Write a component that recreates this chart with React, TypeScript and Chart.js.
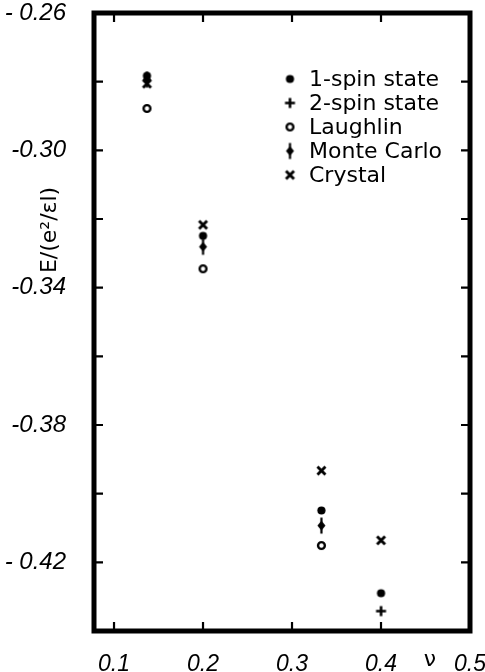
import React, { useEffect, useRef } from "react";
import { Chart, registerables } from "chart.js";

Chart.register(...registerables);

// ---- data ----
const seriesNames = ["1-spin state", "2-spin state", "Laughlin", "Monte Carlo", "Crystal"];

const nuOneSpin = [0.137, 0.2, 0.333, 0.4];
const eOneSpin = [-0.2783, -0.3249, -0.4049, -0.429];

const nuTwoSpin = [0.4];
const eTwoSpin = [-0.4342];

const nuLaughlin = [0.137, 0.2, 0.333];
const eLaughlin = [-0.2878, -0.3345, -0.4151];

const nuMonteCarlo = [0.137, 0.2, 0.333];
const eMonteCarlo = [-0.2794, -0.3281, -0.4093];

const nuCrystal = [0.137, 0.2, 0.333, 0.4];
const eCrystal = [-0.2806, -0.3217, -0.3933, -0.4136];

const xTickValues = [0.1, 0.2, 0.3, 0.4, 0.5];
const xTickLabels = ["0.1", "0.2", "0.3", "0.4", "0.5"];
const yTickValues = [-0.44, -0.42, -0.4, -0.38, -0.36, -0.34, -0.32, -0.3, -0.28, -0.26];
const yLabelValues = [-0.26, -0.3, -0.34, -0.38, -0.42];
const yLabelTexts = ["- 0.26", "-0.30", "-0.34", "-0.38", "- 0.42"];
const xAxisTitle = "ν";
const yAxisTitle = "E/(e²/εl)";

const X_MIN = 0.0775;
const X_MAX = 0.5;
const Y_MIN = -0.44;
const Y_MAX = -0.26;

type MarkerKind = "dot" | "plus" | "ring" | "bar" | "cross";
const markerKinds: MarkerKind[] = ["dot", "plus", "ring", "bar", "cross"];

function makeMarker(kind: MarkerKind): HTMLCanvasElement {
  const c = document.createElement("canvas");
  c.width = 19;
  c.height = 19;
  const g = c.getContext("2d")!;
  g.translate(9.5, 9.5);
  g.fillStyle = "#000";
  g.strokeStyle = "#000";
  g.lineCap = "butt";
  if (kind === "dot") {
    g.beginPath();
    g.arc(0, 0, 4.1, 0, Math.PI * 2);
    g.fill();
  } else if (kind === "plus") {
    g.lineWidth = 2.6;
    g.beginPath();
    g.moveTo(-5, 0);
    g.lineTo(5, 0);
    g.moveTo(0, -5);
    g.lineTo(0, 5);
    g.stroke();
  } else if (kind === "ring") {
    g.lineWidth = 2.4;
    g.fillStyle = "#fff";
    g.beginPath();
    g.arc(0, 0, 3.4, 0, Math.PI * 2);
    g.fill();
    g.stroke();
  } else if (kind === "bar") {
    g.beginPath();
    g.moveTo(0, -5);
    g.lineTo(4, 0);
    g.lineTo(0, 5);
    g.lineTo(-4, 0);
    g.closePath();
    g.fill();
    g.lineWidth = 2.2;
    g.beginPath();
    g.moveTo(0, -8);
    g.lineTo(0, 8);
    g.stroke();
  } else {
    g.lineWidth = 2.9;
    g.beginPath();
    g.moveTo(-4, -4);
    g.lineTo(4, 4);
    g.moveTo(4, -4);
    g.lineTo(-4, 4);
    g.stroke();
  }
  return c;
}

const findLabel = (vals: number[], texts: string[], v: number) => {
  const i = vals.findIndex((t) => Math.abs(t - v) < 1e-9);
  return i >= 0 ? texts[i] : "";
};

export default function App() {
  const ref = useRef<HTMLCanvasElement | null>(null);

  useEffect(() => {
    if (!ref.current) return;
    const markers = markerKinds.map(makeMarker);
    const series = [
      [nuOneSpin, eOneSpin],
      [nuTwoSpin, eTwoSpin],
      [nuLaughlin, eLaughlin],
      [nuMonteCarlo, eMonteCarlo],
      [nuCrystal, eCrystal],
    ];

    const framePlugin = {
      id: "frame",
      beforeDatasetsDraw(chart: any) {
        const { ctx, chartArea } = chart;
        const { left, right, top, bottom } = chartArea;
        const xs = chart.scales.x;
        const ys = chart.scales.y;
        ctx.save();
        ctx.strokeStyle = "#000";
        ctx.lineWidth = 2.2;
        const tl = 9;
        xTickValues.forEach((v) => {
          const px = xs.getPixelForValue(v);
          if (px < left + 4 || px > right - 4) return;
          ctx.beginPath();
          ctx.moveTo(px, bottom);
          ctx.lineTo(px, bottom - tl);
          ctx.moveTo(px, top);
          ctx.lineTo(px, top + tl);
          ctx.stroke();
        });
        yTickValues.forEach((v) => {
          const py = ys.getPixelForValue(v);
          if (py < top + 4 || py > bottom - 4) return;
          ctx.beginPath();
          ctx.moveTo(left, py);
          ctx.lineTo(left + tl, py);
          ctx.moveTo(right, py);
          ctx.lineTo(right - tl, py);
          ctx.stroke();
        });
        ctx.lineWidth = 5;
        ctx.strokeRect(left, top, right - left, bottom - top);
        ctx.restore();
      },
      afterDatasetsDraw(chart: any) {
        const { ctx, chartArea } = chart;
        ctx.save();
        // legend
        const lx = chartArea.left + 196;
        const ly = chartArea.top + 66;
        ctx.font = "22px 'DejaVu Sans'";
        ctx.fillStyle = "#000";
        ctx.textBaseline = "middle";
        ctx.textAlign = "left";
        chart.data.datasets.forEach((ds: any, i: number) => {
          const y = ly + i * 24;
          const m = ds.pointStyle as HTMLCanvasElement;
          ctx.drawImage(m, lx - m.width / 2, y - m.height / 2);
          ctx.fillText(ds.label, lx + 19, y + 1);
        });
        // axis titles
        ctx.font = "22px 'DejaVu Sans'";
        ctx.textAlign = "center";
        ctx.save();
        ctx.translate(50, 230);
        ctx.rotate(-Math.PI / 2);
        ctx.fillText(yAxisTitle, 0, 0);
        ctx.restore();
        ctx.font = "22px 'DejaVu Sans'";
        ctx.fillText(xAxisTitle, 430, 660);
        ctx.restore();
      },
    };

    const chart = new Chart(ref.current, {
      type: "scatter",
      data: {
        datasets: series.map(([xs, ys], i) => ({
          label: seriesNames[i],
          data: xs.map((x, j) => ({ x, y: ys[j] })),
          pointStyle: markers[i] as any,
          pointRadius: 8,
          showLine: false,
        })),
      },
      options: {
        responsive: false,
        animation: false,
        events: [],
        layout: { padding: { top: 13, right: 15, left: 0, bottom: 0 } },
        plugins: { legend: { display: false }, tooltip: { enabled: false } },
        scales: {
          x: {
            type: "linear",
            min: X_MIN,
            max: X_MAX,
            afterBuildTicks: (s: any) => {
              s.ticks = xTickValues.map((v) => ({ value: v }));
            },
            afterFit: (s: any) => {
              s.height = 41;
              s.paddingLeft = 0;
              s.paddingRight = 0;
            },
            grid: { display: false },
            border: { display: false },
            ticks: {
              autoSkip: false,
              maxRotation: 0,
              padding: 12,
              color: "#000",
              font: { family: "Liberation Sans", size: 23, style: "italic" },
              callback: (v: any) => findLabel(xTickValues, xTickLabels, Number(v)),
            },
          },
          y: {
            type: "linear",
            min: Y_MIN,
            max: Y_MAX,
            afterBuildTicks: (s: any) => {
              s.ticks = yTickValues.map((v) => ({ value: v }));
            },
            afterFit: (s: any) => {
              s.width = 94;
              s.paddingTop = 0;
              s.paddingBottom = 0;
            },
            grid: { display: false },
            border: { display: false },
            ticks: {
              autoSkip: false,
              padding: 20,
              color: "#000",
              font: { family: "Liberation Sans", size: 24, style: "italic" },
              callback: (v: any) => findLabel(yLabelValues, yLabelTexts, Number(v)),
            },
          },
        },
      } as any,
      plugins: [framePlugin],
    });
    return () => chart.destroy();
  }, []);

  return (
    <canvas
      ref={ref}
      width={485}
      height={672}
      style={{ position: "fixed", left: 0, top: 0, width: 485, height: 672, background: "#fff" }}
    />
  );
}
